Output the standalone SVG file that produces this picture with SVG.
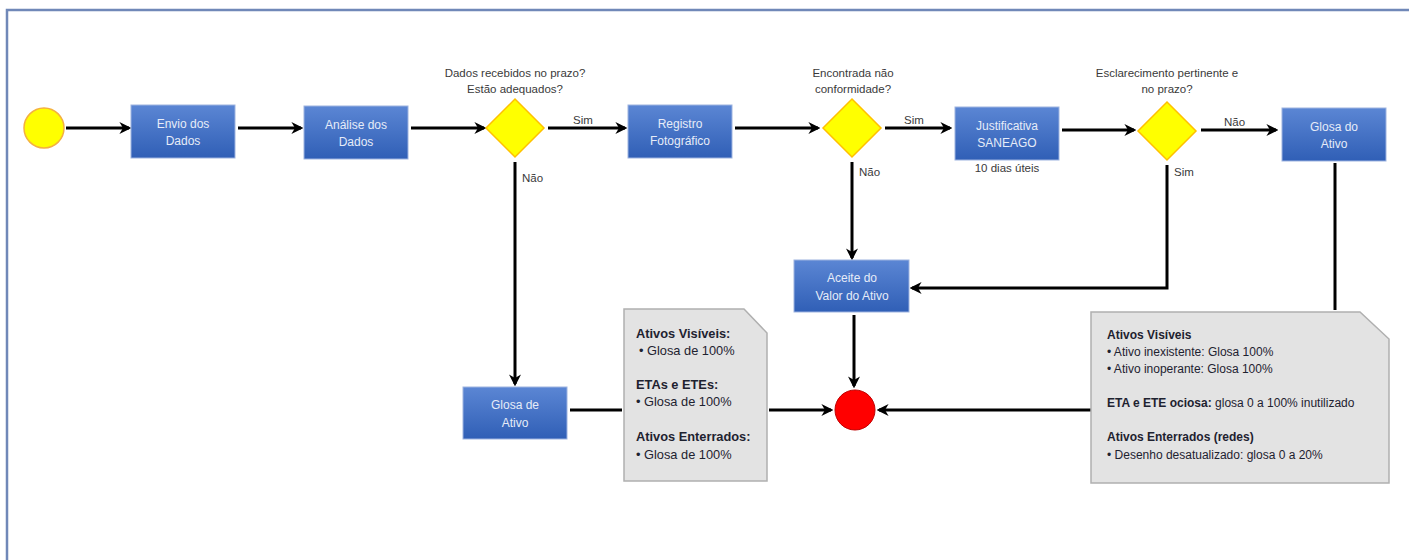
<svg xmlns="http://www.w3.org/2000/svg" width="1409" height="560" viewBox="0 0 1409 560">
<style>
  .box{fill:url(#blue);stroke:#9db3e0;stroke-width:1}
  .bt{font-family:"Liberation Sans",Arial,sans-serif;font-size:12px;fill:#e6ecf8;text-anchor:middle}
  .lbl{font-family:"Liberation Sans",Arial,sans-serif;font-size:11.5px;fill:#3a3a3a;text-anchor:middle}
  .yl{font-family:"Liberation Sans",Arial,sans-serif;font-size:11.5px;fill:#3a3a3a}
  .dia{fill:#ffff00;stroke:#ffc000;stroke-width:1.5}
  .note{fill:#e3e3e3;stroke:#b0b0b0;stroke-width:1.5}
  .nt{font-family:"Liberation Sans",Arial,sans-serif;font-size:12px;fill:#1e2230}
  .n1{font-size:12.8px}
  .b{font-weight:bold}
  .ln{fill:none;stroke:#000;stroke-width:3}
  .arr{fill:none;stroke:#000;stroke-width:3;marker-end:url(#ah)}
</style>
<defs>
  <linearGradient id="blue" x1="0" y1="0" x2="0" y2="1">
    <stop offset="0" stop-color="#5b86d4"/>
    <stop offset="1" stop-color="#305fb6"/>
  </linearGradient>
  <marker id="ah" viewBox="0 0 10 10" refX="8" refY="5" markerWidth="4" markerHeight="4" orient="auto" markerUnits="strokeWidth">
    <path d="M0,0 L10,5 L0,10 L3,5 Z" fill="#000"/>
  </marker>
</defs>
<rect x="0" y="0" width="1409" height="560" fill="#fff"/>
<path d="M7,562 L7,10 L1411,10" fill="none" stroke="#7088b8" stroke-width="2.5"/>

<g id="connectors">
  <line class="arr" x1="66" y1="128" x2="129" y2="128"/>
  <line class="arr" x1="238" y1="128" x2="301" y2="128"/>
  <line class="arr" x1="411" y1="128" x2="484" y2="128"/>
  <line class="arr" x1="548" y1="128" x2="625" y2="128"/>
  <line class="arr" x1="515" y1="162" x2="515" y2="384"/>
  <line class="arr" x1="735" y1="128" x2="818" y2="128"/>
  <line class="arr" x1="885" y1="128" x2="950" y2="128"/>
  <line class="arr" x1="852" y1="162" x2="852" y2="258"/>
  <line class="arr" x1="1062" y1="130" x2="1134" y2="130"/>
  <line class="arr" x1="1201" y1="130" x2="1276" y2="130"/>
  <line class="ln" x1="1335" y1="163" x2="1335" y2="310"/>
  <polyline class="arr" points="1167,165 1167,288 912,288"/>
  <line class="arr" x1="854" y1="315" x2="854" y2="386"/>
  <line class="ln" x1="570" y1="410" x2="622" y2="410"/>
  <line class="arr" x1="769" y1="410" x2="831" y2="410"/>
  <line class="arr" x1="1091" y1="410" x2="879" y2="410"/>
  <text class="yl" x="573" y="124">Sim</text>
  <text class="yl" x="522" y="182">Não</text>
  <text class="yl" x="904" y="124">Sim</text>
  <text class="yl" x="859" y="176">Não</text>
  <text class="yl" x="1224" y="126">Não</text>
  <text class="yl" x="1174" y="176">Sim</text>
</g>

<g id="start"><circle cx="44" cy="128" r="20" fill="#ffff00" stroke="#f4b040" stroke-width="1.5"/></g>

<g id="envio">
  <rect class="box" x="131" y="105" width="104" height="53"/>
  <text class="bt" x="183" y="128">Envio dos</text>
  <text class="bt" x="183" y="145">Dados</text>
</g>
<g id="analise">
  <rect class="box" x="304" y="106" width="104" height="53"/>
  <text class="bt" x="356" y="129">Análise dos</text>
  <text class="bt" x="356" y="146">Dados</text>
</g>
<g id="dec1">
  <polygon class="dia" points="515,99 544,128 515,157 486,128"/>
  <text class="lbl" x="515" y="77">Dados recebidos no prazo?</text>
  <text class="lbl" x="515" y="93">Estão adequados?</text>
</g>
<g id="registro">
  <rect class="box" x="628" y="105" width="104" height="53"/>
  <text class="bt" x="680" y="128">Registro</text>
  <text class="bt" x="680" y="145">Fotográfico</text>
</g>
<g id="dec2">
  <polygon class="dia" points="852,99 881,128 852,157 823,128"/>
  <text class="lbl" x="853" y="77">Encontrada não</text>
  <text class="lbl" x="853" y="93">conformidade?</text>
</g>
<g id="justificativa">
  <rect class="box" x="955" y="107" width="104" height="53"/>
  <text class="bt" x="1007" y="130">Justificativa</text>
  <text class="bt" x="1007" y="147">SANEAGO</text>
  <text class="lbl" x="1007" y="172">10 dias úteis</text>
</g>
<g id="dec3">
  <polygon class="dia" points="1167,102 1196,131 1167,160 1138,131"/>
  <text class="lbl" x="1167" y="77">Esclarecimento pertinente e</text>
  <text class="lbl" x="1167" y="93">no prazo?</text>
</g>
<g id="glosa-do-ativo">
  <rect class="box" x="1282" y="108" width="104" height="53"/>
  <text class="bt" x="1334" y="131">Glosa do</text>
  <text class="bt" x="1334" y="148">Ativo</text>
</g>
<g id="aceite">
  <rect class="box" x="794" y="260" width="115" height="52"/>
  <text class="bt" x="852" y="282">Aceite do</text>
  <text class="bt" x="852" y="300">Valor do Ativo</text>
</g>
<g id="glosa-de-ativo">
  <rect class="box" x="463" y="387" width="104" height="52"/>
  <text class="bt" x="515" y="409">Glosa de</text>
  <text class="bt" x="515" y="427">Ativo</text>
</g>
<g id="end"><circle cx="855" cy="410" r="20" fill="#ff0000" stroke="#c00000" stroke-width="1"/></g>

<g id="note1">
  <polygon class="note" points="624,309 744,309 767,333 767,481 624,481"/>
  <text class="nt n1 b" x="636" y="338">Ativos Visíveis:</text>
  <text class="nt n1" x="639" y="355">• Glosa de 100%</text>
  <text class="nt n1 b" x="636" y="389">ETAs e ETEs:</text>
  <text class="nt n1" x="636" y="406">• Glosa de 100%</text>
  <text class="nt n1 b" x="636" y="441">Ativos Enterrados:</text>
  <text class="nt n1" x="636" y="459">• Glosa de 100%</text>
</g>
<g id="note2">
  <polygon class="note" points="1091,312 1360,312 1389,339 1389,483 1091,483"/>
  <text class="nt b" x="1107" y="339">Ativos Visíveis</text>
  <text class="nt" x="1107" y="356">• Ativo inexistente: Glosa 100%</text>
  <text class="nt" x="1107" y="373">• Ativo inoperante: Glosa 100%</text>
  <text class="nt" x="1107" y="407"><tspan class="b">ETA e ETE ociosa:</tspan> glosa 0 a 100% inutilizado</text>
  <text class="nt b" x="1107" y="441">Ativos Enterrados (redes)</text>
  <text class="nt" x="1107" y="459">• Desenho desatualizado: glosa 0 a 20%</text>
</g>
</svg>
